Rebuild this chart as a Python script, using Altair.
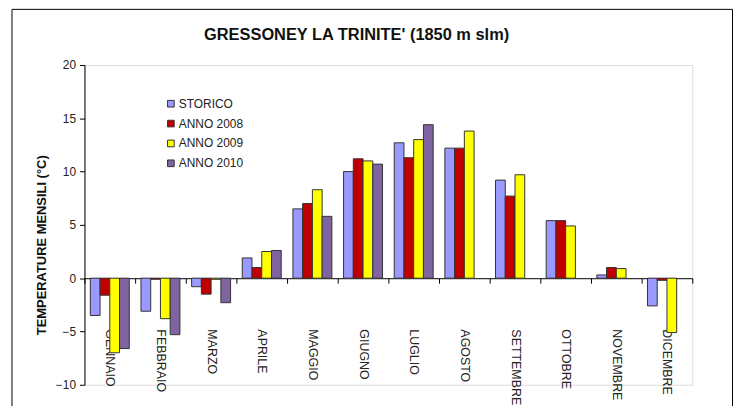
import altair as alt
import pandas as pd

months = ["GENNAIO", "FEBBRAIO", "MARZO", "APRILE", "MAGGIO", "GIUGNO",
          "LUGLIO", "AGOSTO", "SETTEMBRE", "OTTOBRE", "NOVEMBRE", "DICEMBRE"]
series = ["STORICO", "ANNO 2008", "ANNO 2009", "ANNO 2010"]
colors = ["#9999FF", "#C00000", "#FFFF00", "#8064A2"]

storico = [-3.5, -3.1, -0.8, 1.9, 6.5, 10.0, 12.7, 12.2, 9.2, 5.4, 0.3, -2.6]
anno2008 = [-1.6, -0.1, -1.5, 1.0, 7.0, 11.2, 11.3, 12.2, 7.7, 5.4, 1.0, -0.2]
anno2009 = [-7.0, -3.8, -0.1, 2.5, 8.3, 11.0, 13.0, 13.8, 9.7, 4.9, 0.9, -5.1]
anno2010 = [-6.6, -5.3, -2.3, 2.6, 5.8, 10.7, 14.4, None, None, None, None, None]

title_text = "GRESSONEY LA TRINITE' (1850 m slm)"

rows = []
for name, vals in zip(series, [storico, anno2008, anno2009, anno2010]):
    for m, v in zip(months, vals):
        if v is not None:
            rows.append({"mese": m, "serie": name, "valore": v})
df = pd.DataFrame(rows)

W, H = 612, 322

bars = alt.Chart(df).mark_bar(stroke="#333333", strokeWidth=1).encode(
    x=alt.X("mese:N", sort=months, scale=alt.Scale(paddingInner=0, paddingOuter=0),
            axis=alt.Axis(title=None, orient="bottom", offset=-107.3, labelAngle=90,
                          labelAlign="left", labelBaseline="middle", labelPadding=46,
                          labelFont="Liberation Sans", labelFontSize=12.5, labelColor="#222222",
                          tickBand="extent", tickSize=5, tickColor="#000000",
                          domainColor="#000000", labelOverlap=False)),
    xOffset=alt.XOffset("serie:N", sort=series,
                        scale=alt.Scale(paddingOuter=0.6, paddingInner=0)),
    y=alt.Y("valore:Q", scale=alt.Scale(domain=[-10, 20], nice=False),
            axis=alt.Axis(title="TEMPERATURE MENSILI (°C)", values=[-10, -5, 0, 5, 10, 15, 20],
                          grid=False, tickSize=5, tickColor="#000000", domainColor="#000000",
                          labelFont="Liberation Sans", labelFontSize=12, labelColor="#222222",
                          labelPadding=4, titleFont="Liberation Sans", titleFontSize=13,
                          titleFontWeight="bold", titleColor="#111111", titlePadding=7,
                          titleY=181, titleAlign="center")),
    color=alt.Color("serie:N", sort=series, scale=alt.Scale(domain=series, range=colors),
                    legend=alt.Legend(title=None, orient="none", legendX=81, legendY=33,
                                      symbolType="square", symbolSize=45,
                                      symbolStrokeColor="#333333", symbolStrokeWidth=1,
                                      labelFont="Liberation Sans", labelFontSize=12,
                                      labelColor="#222222", rowPadding=8, labelOffset=2)),
)

border = alt.Chart(pd.DataFrame({"k": [0]})).mark_rect(
    fill=None, stroke="#000000", strokeWidth=1).encode(
    x=alt.value(-73), x2=alt.value(652.5), y=alt.value(-56), y2=alt.value(345))

title = alt.Chart(pd.DataFrame({"k": [0]})).mark_text(
    font="Liberation Sans", fontSize=16.5, fontWeight="bold", color="#111111",
    align="center", baseline="middle").encode(
    x=alt.value(274), y=alt.value(-30), text=alt.value(title_text))

chart = alt.layer(border, title, bars).properties(
    width=W, height=H,
    autosize=alt.AutoSizeParams(type="none"),
    padding={"left": 77, "top": 56, "right": 42, "bottom": 20},
).configure_view(stroke=None).configure(background="white")

chart.save("out.html", embed_options={"renderer": "svg", "actions": False})
